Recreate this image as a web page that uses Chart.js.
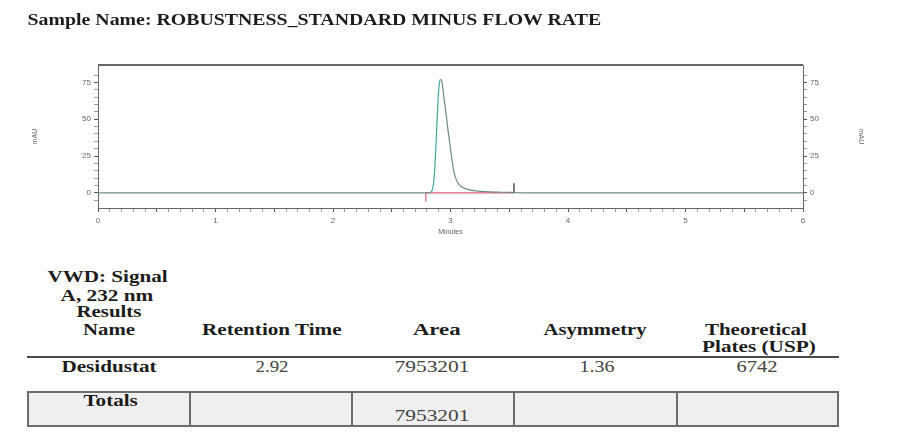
<!DOCTYPE html>
<html>
<head>
<meta charset="utf-8">
<script src="https://cdn.jsdelivr.net/npm/chart.js@4.4.1/dist/chart.umd.min.js"></script>
<style>
    html, body { margin: 0; padding: 0; background: #fff; }
    #page { position: relative; width: 898px; height: 437px; overflow: hidden; background: #fff; }
    #chart-box { position: absolute; left: 0; top: 0; width: 898px; height: 245px; }
    .txt { position: absolute; white-space: nowrap; font-family: 'Liberation Serif', 'Times New Roman', serif; color: #1c1c1c; line-height: 1; transform-origin: 50% 50%; }
    .bold { font-weight: bold; }
    .hline { position: absolute; left: 27px; width: 812px; top: 356px; height: 2px; background: #4a4a4a; }
    #totals { position: absolute; left: 27px; top: 391px; width: 812px; height: 36px; box-sizing: border-box; border: 2px solid #6c6c6c; background: #efefef; }
    .vline { position: absolute; top: 391px; width: 2px; height: 36px; background: #6c6c6c; }
</style>
</head>
<body>
<div id="page">
    <div id="chart-box"><canvas id="chromChart" width="898" height="245"></canvas></div>
    <div class="hline"></div>
    <div id="totals"></div>
    <div class="vline" style="left:189px"></div>
    <div class="vline" style="left:351px"></div>
    <div class="vline" style="left:513px"></div>
    <div class="vline" style="left:676px"></div>
</div>
<script>
// --- DATA ---
const sampleName = 'Sample Name: ROBUSTNESS_STANDARD MINUS FLOW RATE';

// chromatogram trace (minutes, mAU)
const signalTime = [0, 2.80, 2.83, 2.845, 2.855, 2.865, 2.875, 2.885, 2.895, 2.905, 2.915, 2.925, 2.935, 2.945, 2.955, 2.965, 2.975, 2.985, 2.995, 3.005, 3.015, 3.025, 3.04, 3.055, 3.07, 3.09, 3.12, 3.16, 3.22, 3.3, 3.4, 3.5, 3.56, 3.6, 6];
const signalAbs = [0, 0, 0.2, 2, 6, 15, 30, 48, 64, 74, 77, 76, 71, 64, 58, 52, 45, 39, 33, 27, 21, 16, 11, 8, 6, 4.3, 3, 2, 1.3, 0.8, 0.5, 0.3, 0.1, 0, 0];

// integration baseline and peak end mark
const baselineTime = [2.79, 2.79, 3.54];
const baselineAbs = [-6, 0, 0];
const markerTime = [3.54, 3.54];
const markerAbs = [0, 6.5];

const xLabelStep = 1;
const yLabelStep = 25;

// results table
const signalTitle = ['VWD: Signal', 'A, 232 nm', 'Results'];
const columnNames = ['Name', 'Retention Time', 'Area', 'Asymmetry', 'Theoretical', 'Plates (USP)'];
const peakNames = ['Desidustat'];
const retentionTimes = [2.92];
const peakAreas = [7953201];
const asymmetries = [1.36];
const plates = [6742];
const totalArea = 7953201;

// --- TEXT ---
const page = document.getElementById('page');

function putText(str, cx, cy, size, bold, width, color) {
    const el = document.createElement('div');
    el.className = 'txt' + (bold ? ' bold' : '');
    el.textContent = str;
    el.style.fontSize = size + 'px';
    if (color) el.style.color = color;
    page.appendChild(el);
    const w = el.offsetWidth, h = el.offsetHeight;
    el.style.left = (cx - w / 2) + 'px';
    el.style.top = (cy - h / 2) + 'px';
    if (width) el.style.transform = `scaleX(${width / w})`;
    return el;
}

putText(sampleName, 314, 20, 16, true, 574);

putText(signalTitle[0], 107, 277, 16, true, 120);
putText(signalTitle[1], 107, 296, 16, true, 93);
putText(signalTitle[2], 109, 312, 16, true, 65);
putText(columnNames[0], 109, 330, 16, true, 52);
putText(columnNames[1], 272, 330, 16, true, 140);
putText(columnNames[2], 436, 330, 16, true, 47);
putText(columnNames[3], 595, 330, 16, true, 103);
putText(columnNames[4], 756, 330, 16, true, 102);
putText(columnNames[5], 759, 347, 16, true, 114);

putText(peakNames[0], 109, 367, 16, true, 95);
putText(retentionTimes[0].toFixed(2), 272, 367, 16, false, 33, '#444');
putText(String(peakAreas[0]), 432, 367, 16, false, 75, '#444');
putText(asymmetries[0].toFixed(2), 597, 367, 16, false, 35, '#444');
putText(String(plates[0]), 757, 367, 16, false, 41, '#444');

putText('Totals', 110, 401, 16, true, 54);
putText(String(totalArea), 432, 416, 16, false, 75, '#444');

// --- CHART ---
const Y_MIN = -10.3, Y_MAX = 86.8;

function toPoints(xs, ys) {
    return xs.map((x, i) => ({ x: x, y: ys[i] }));
}

function isStep(v, step) {
    return Math.abs(v / step - Math.round(v / step)) < 1e-6;
}

// top edge of the plot frame
const frameTop = {
    id: 'frameTop',
    afterDraw(chart) {
        const { ctx, chartArea: a } = chart;
        ctx.save();
        ctx.strokeStyle = '#666';
        ctx.lineWidth = 2;
        ctx.beginPath();
        ctx.moveTo(a.left, a.top);
        ctx.lineTo(a.right, a.top);
        ctx.stroke();
        ctx.restore();
    }
};

const peakIdx = signalAbs.indexOf(Math.max(...signalAbs));

function yAxis(position, titlePad, width) {
    return {
        type: 'linear',
        position: position,
        min: Y_MIN,
        max: Y_MAX,
        afterBuildTicks: s => { s.ticks = s.ticks.filter(t => isStep(t.value, 5)); },
        afterFit: s => { s.width = width; },
        ticks: {
            stepSize: 5,
            autoSkip: false,
            padding: 3,
            color: '#666',
            font: { family: 'Liberation Sans', size: 8 },
            callback: v => isStep(v, yLabelStep) ? Math.round(v) : ''
        },
        grid: {
            drawOnChartArea: false,
            tickLength: 4,
            tickColor: c => (c.tick && isStep(c.tick.value, yLabelStep)) ? '#555' : '#999'
        },
        border: { display: true, color: '#666', width: 1 },
        title: {
            display: true,
            text: 'mAU',
            color: '#666',
            font: { family: 'Liberation Sans', size: 7 },
            padding: { top: titlePad, bottom: 0 }
        }
    };
}

new Chart(document.getElementById('chromChart'), {
    type: 'line',
    data: {
        datasets: [
            {
                label: 'signal',
                data: toPoints(signalTime, signalAbs),
                borderColor: '#6f8d80',
                borderWidth: 1.2,
                pointRadius: 0,
                cubicInterpolationMode: 'monotone',
                segment: {
                    borderColor: c => (c.p1DataIndex <= peakIdx && c.p0DataIndex >= 2) ? '#44a89a' : undefined
                }
            },
            {
                label: 'baseline',
                data: toPoints(baselineTime, baselineAbs),
                borderColor: '#e2607a',
                borderWidth: 1.2,
                pointRadius: 0
            },
            {
                label: 'marker',
                data: toPoints(markerTime, markerAbs),
                borderColor: '#333',
                borderWidth: 1.3,
                pointRadius: 0
            }
        ]
    },
    options: {
        responsive: false,
        devicePixelRatio: 1,
        animation: false,
        layout: { padding: { top: 65, left: 0, right: 0, bottom: 0 } },
        plugins: { legend: { display: false }, tooltip: { enabled: false } },
        scales: {
            x: {
                type: 'linear',
                min: 0,
                max: 6,
                afterFit: s => { s.height = 37; },
                ticks: {
                    stepSize: 0.1,
                    autoSkip: false,
                    maxRotation: 0,
                    padding: 4,
                    color: '#666',
                    font: { family: 'Liberation Sans', size: 8 },
                    callback: v => isStep(v, xLabelStep) ? Math.round(v) : ''
                },
                grid: {
                    drawOnChartArea: false,
                    tickLength: 4,
                    tickColor: c => (c.tick && isStep(c.tick.value, 0.5)) ? '#555' : '#999'
                },
                border: { display: true, color: '#666', width: 1 },
                title: {
                    display: true,
                    text: 'Minutes',
                    color: '#666',
                    font: { family: 'Liberation Sans', size: 7 },
                    padding: { top: 0, bottom: 9 }
                }
            },
            y: yAxis('left', 31, 98),
            y2: yAxis('right', 33, 95)
        }
    },
    plugins: [frameTop]
});
</script>
</body>
</html>
